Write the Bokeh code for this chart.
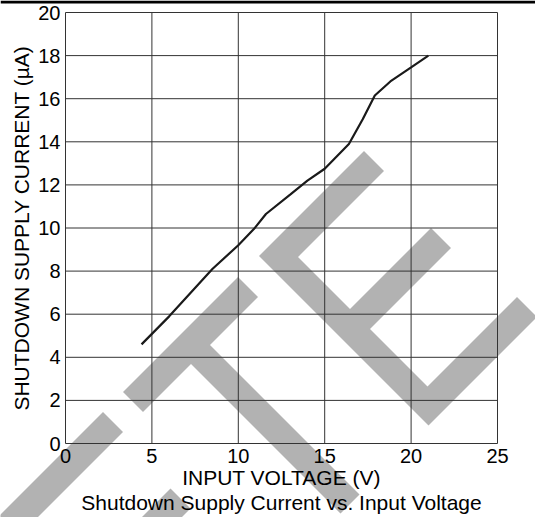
from bokeh.plotting import figure
from bokeh.models import FixedTicker, Range1d, LinearAxis, Label
from bokeh.embed import file_html
from bokeh.resources import INLINE

# ---- data ----
vin = [4.4, 6.0, 8.5, 10.0, 10.9, 11.6, 13.0, 14.0, 15.0, 16.4, 17.2, 17.9, 18.8, 20.0, 21.0]
isd = [4.6, 5.9, 8.1, 9.2, 9.95, 10.65, 11.55, 12.2, 12.75, 13.9, 15.05, 16.15, 16.8, 17.45, 18.0]

x_ticks = [0, 5, 10, 15, 20, 25]
y_ticks = [0, 2, 4, 6, 8, 10, 12, 14, 16, 18, 20]
x_label = "INPUT VOLTAGE (V)"
y_label = "SHUTDOWN SUPPLY CURRENT (µA)"
title_text = "Shutdown Supply Current vs. Input Voltage"

FONT = "Liberation Sans"
W, H = 535, 517
# page-pixel placement of the plotting box (x 0..25, y 0..20)
FX0, FX1, FY1, FY0 = 65.0, 497.0, 12.0, 443.0
SX = (FX1 - FX0) / (x_ticks[-1] - x_ticks[0])
SY = (FY0 - FY1) / (y_ticks[-1] - y_ticks[0])

def px_to_data(px, py):
    return x_ticks[0] + (px - FX0) / SX, y_ticks[0] + (FY0 - py) / SY

(xa, yb), (xb, ya) = px_to_data(0, H), px_to_data(W, 0)

p = figure(width=W, height=H, x_range=Range1d(xa, xb), y_range=Range1d(yb, ya),
           x_axis_type=None, y_axis_type=None,
           output_backend="svg", toolbar_location=None,
           min_border=0, min_border_left=0, min_border_right=0,
           min_border_top=0, min_border_bottom=0)
p.title.visible = False
p.background_fill_color = "white"
p.border_fill_color = "white"
p.outline_line_color = None

# ---- decoration: diagonal watermark, in a rotated page-pixel frame u = px+py, v = px-py ----
def uv_poly(pts):
    xs, ys = [], []
    for u, v in pts:
        x, y = px_to_data((u + v) / 2.0, (u - v) / 2.0)
        xs.append(x)
        ys.append(y)
    return xs, ys

def rect(u0, u1, v0, v1):
    return [(u0, v0), (u0, v1), (u1, v1), (u1, v0)]

wm_shapes = [
    rect(514, 554, -600, -309),
    rect(658, 698, -600, -318),
    [(514, -269), (514, -39), (554, -39), (554, -135), (853, -135),
     (853, -173), (554, -173), (554, -269)],
    [(514, 3), (514, 213), (554, 213), (554, 41), (658, 41), (658, 203),
     (698, 203), (698, 41), (813, 41), (813, 220), (853, 220), (853, 3)],
]
wm_xs, wm_ys = zip(*[uv_poly(s) for s in wm_shapes])
p.patches(list(wm_xs), list(wm_ys), fill_color="#b2b2b2", line_color=None)

# top rule of the page
_, top_y = px_to_data(0, 1.5)
p.segment(x0=[xa], y0=[top_y], x1=[xb], y1=[top_y], line_color="black", line_width=3)

# ---- grid and frame (lines at every tick) ----
p.segment(x0=x_ticks, y0=[y_ticks[0]] * len(x_ticks), x1=x_ticks,
          y1=[y_ticks[-1]] * len(x_ticks), line_color="#333333", line_width=1)
p.segment(x0=[x_ticks[0]] * len(y_ticks), y0=y_ticks, x1=[x_ticks[-1]] * len(y_ticks),
          y1=y_ticks, line_color="#333333", line_width=1)

# ---- curve ----
p.line(vin, isd, line_color="#1a1a1a", line_width=2.2)

# ---- axes pinned to the box edges ----
xaxis = LinearAxis(fixed_location=y_ticks[0], bounds=(x_ticks[0], x_ticks[-1]),
                   ticker=FixedTicker(ticks=x_ticks), axis_label=x_label)
yaxis = LinearAxis(fixed_location=x_ticks[0], bounds=(y_ticks[0], y_ticks[-1]),
                   ticker=FixedTicker(ticks=y_ticks), axis_label=y_label)
for ax in (xaxis, yaxis):
    ax.axis_line_color = None
    ax.major_tick_line_color = None
    ax.minor_tick_line_color = None
    ax.major_tick_out = 0
    ax.major_tick_in = 0
    ax.major_label_text_font = FONT
    ax.major_label_text_font_size = "20px"
    ax.major_label_text_color = "black"
    ax.axis_label_text_font = FONT
    ax.axis_label_text_font_size = "21px"
    ax.axis_label_text_font_style = "normal"
    ax.axis_label_text_color = "black"
xaxis.major_label_standoff = 5
xaxis.axis_label_standoff = 0
yaxis.major_label_standoff = 5
yaxis.axis_label_standoff = 2
p.add_layout(xaxis, "below")
p.add_layout(yaxis, "left")

p.add_layout(Label(x=(x_ticks[0] + x_ticks[-1]) / 2, y=px_to_data(0, 502)[1], text=title_text,
                   text_align="center", text_baseline="alphabetic", text_font=FONT,
                   text_font_size="21px", text_color="black"))

open("out.html", "w").write(file_html(p, INLINE))
